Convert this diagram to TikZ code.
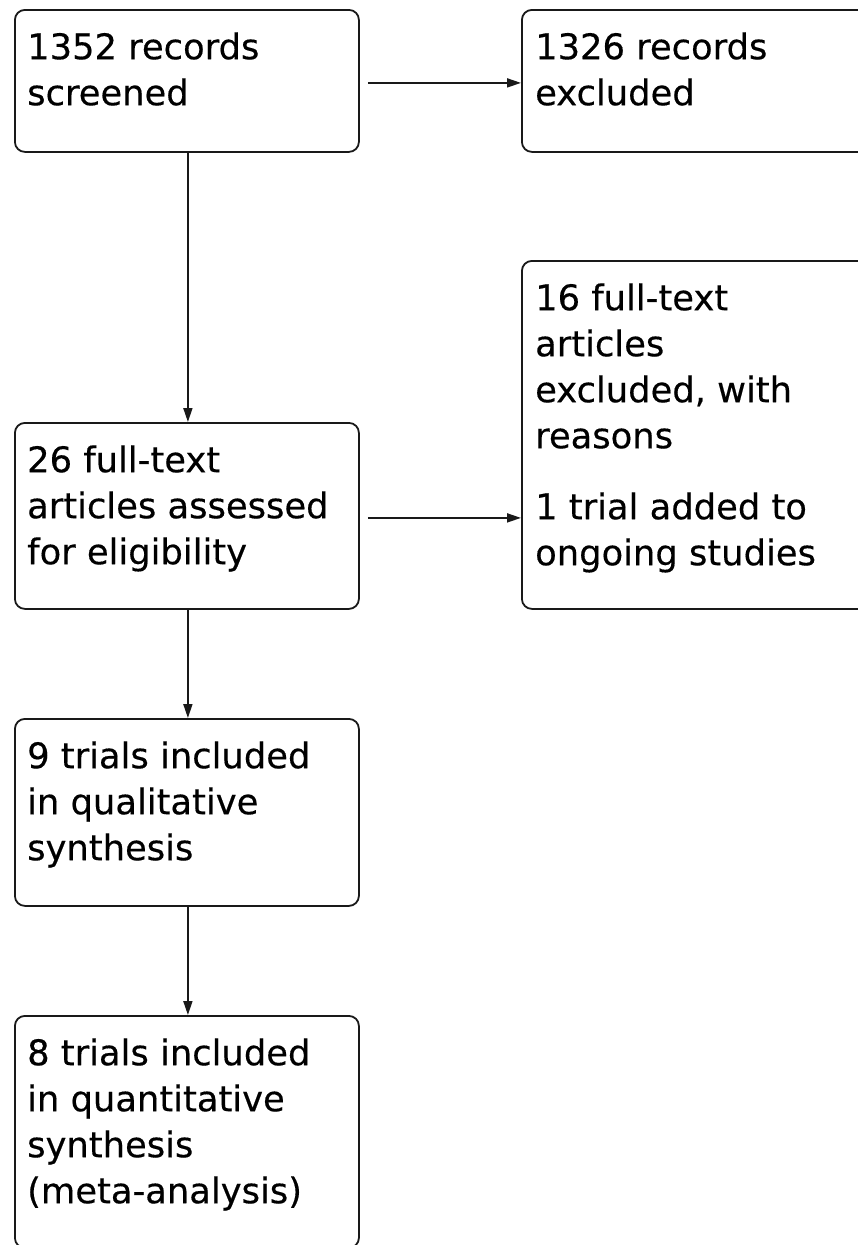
\documentclass[tikz,border=0pt]{standalone}
\usepackage{fontspec}
\setmainfont{DejaVu Sans}[FakeBold=0.4]
\usetikzlibrary{arrows.meta}
\begin{document}
\begin{tikzpicture}[x=1pt,y=-1pt,
  box/.style={draw=black!90, line width=1.8pt, rounded corners=10pt, inner sep=0pt, anchor=north west},
  lbl/.style={anchor=north west, inner sep=0pt, align=left, font=\fontsize{35.3}{46}\selectfont},
  arr/.style={draw=black!90, line width=1.8pt, -{Triangle[length=14pt,width=9pt]}}]
\useasboundingbox (0,0) rectangle (858,1245);
\clip (0,0) rectangle (858,1245);
\fill[white] (0,0) rectangle (858,1245);
% boxes
\node[box, minimum width=344pt, minimum height=142pt] (b1) at (14,9) {};
\node[box, minimum width=350pt, minimum height=142pt] (b2) at (521,9) {};
\node[box, minimum width=350pt, minimum height=348pt] (b3) at (521,260) {};
\node[box, minimum width=344pt, minimum height=186pt] (b4) at (14,422) {};
\node[box, minimum width=344pt, minimum height=187pt] (b5) at (14,718) {};
\node[box, minimum width=344pt, minimum height=232pt] (b6) at (14,1015) {};
% labels
\node[lbl] (t1) at (27,32) {\rule{0pt}{27pt}1352 records\\screened};
\node[lbl] (t2) at (535,32) {\rule{0pt}{27pt}1326 records\\excluded};
\node[lbl] (t3) at (535,283) {\rule{0pt}{27pt}16 full-text\\articles\\excluded, with\\reasons\\[25pt]1 trial added to\\ongoing studies};
\node[lbl] (t4) at (27,445) {\rule{0pt}{27pt}26 full-text\\articles assessed\\for eligibility};
\node[lbl] (t5) at (27,741) {\rule{0pt}{27pt}9 trials included\\in qualitative\\synthesis};
\node[lbl] (t6) at (27,1038) {\rule{0pt}{27pt}8 trials included\\in quantitative\\synthesis\\(meta-analysis)};
% connectors
\draw[arr] ([xshift=8pt,yshift=-2pt]b1.east) -- ([yshift=-2pt]b1.east -| b2.west);
\draw[arr] ([xshift=1pt]b1.south) -- ([xshift=1pt]b4.north);
\draw[arr] ([xshift=8pt,yshift=-2pt]b4.east) -- ([yshift=-2pt]b4.east -| b3.west);
\draw[arr] ([xshift=1pt]b4.south) -- ([xshift=1pt]b5.north);
\draw[arr] ([xshift=1pt]b5.south) -- ([xshift=1pt]b6.north);
\end{tikzpicture}
\end{document}
